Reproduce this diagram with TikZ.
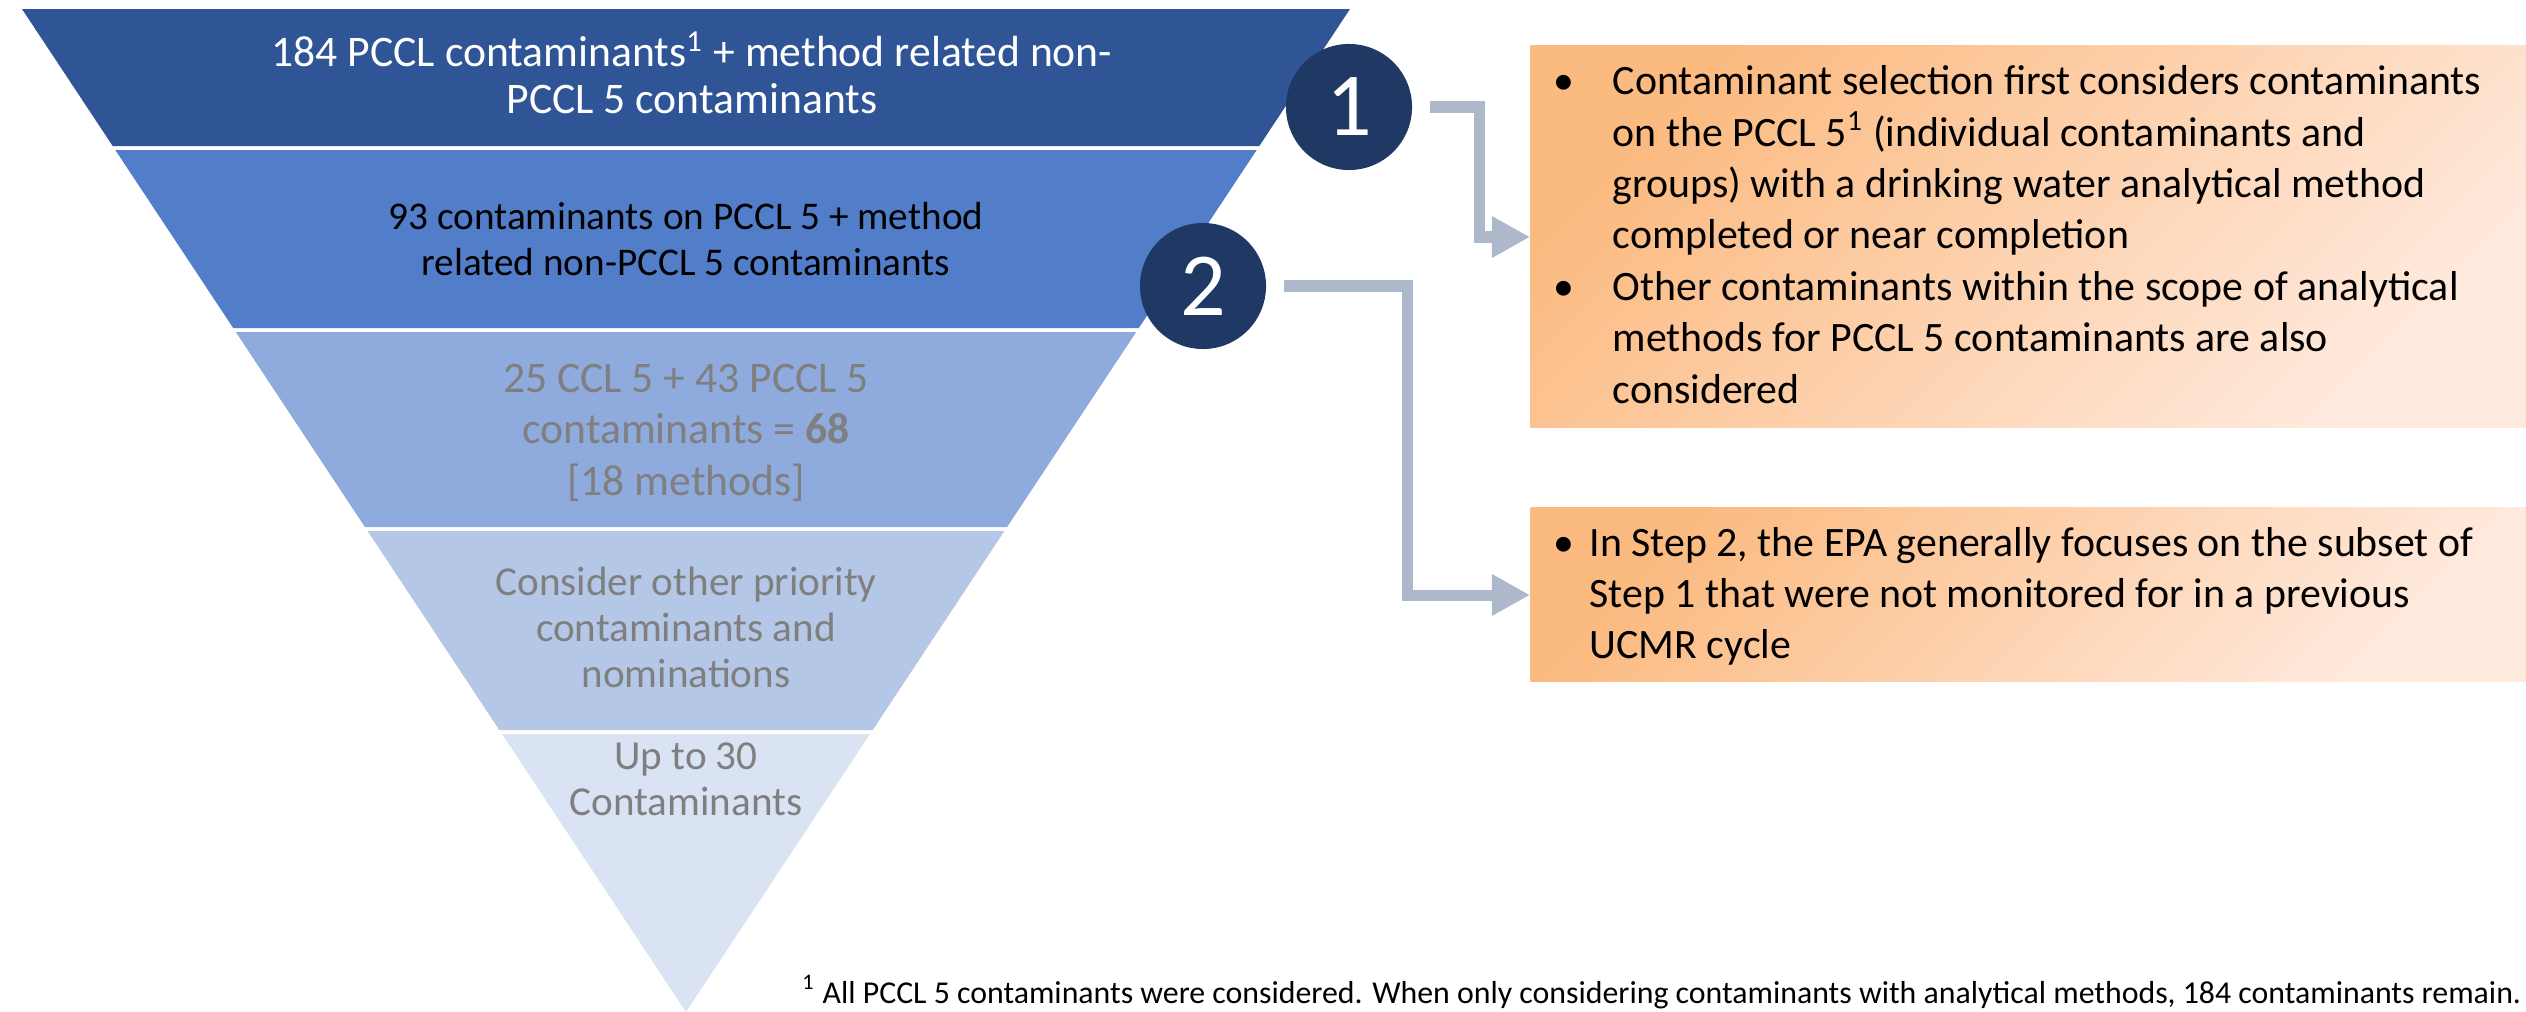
\documentclass[tikz,border=0pt]{standalone}
\usepackage{fontspec}
\setmainfont{Carlito}
\usetikzlibrary{arrows.meta}

\definecolor{bandA}{HTML}{2F5597}
\definecolor{bandB}{HTML}{527DC8}
\definecolor{bandC}{HTML}{8FAADC}
\definecolor{bandD}{HTML}{B4C7E7}
\definecolor{bandE}{HTML}{DAE3F3}
\definecolor{navy}{HTML}{203864}
\definecolor{connc}{HTML}{ADB9CA}
\definecolor{softgray}{HTML}{7F7F7F}
\definecolor{boxA}{HTML}{FBBA80}
\definecolor{boxB}{HTML}{FFEADE}

\newcommand\bandfontlarge{\fontsize{12.4}{13.2}\selectfont}
\newcommand\bandfontmid{\fontsize{11.15}{13.2}\selectfont}
\newcommand\bandfontwide{\fontsize{12.4}{14.68}\selectfont}
\newcommand\bandfontsmall{\fontsize{11.7}{13.2}\selectfont}
\newcommand\boxfont{\fontsize{11.9}{14.62}\selectfont}

\tikzset{
  bandtext/.style={anchor=base, inner sep=0pt, align=center},
  stepcircle/.style={circle, fill=navy, text=white, minimum size=1.26cm, inner sep=0pt,
    font=\fontsize{25.6}{30}\selectfont},
  infobox/.style={rectangle, inner sep=0pt, anchor=north west,
    top color=boxA, bottom color=boxB, shading angle=45},
  boxtext/.style={anchor=base west, inner sep=0pt, font=\boxfont},
  conn/.style={draw=connc, line width=0.11cm, line join=miter,
    -{Triangle[length=0.38cm,width=0.39cm]}},
}

\begin{document}
\begin{tikzpicture}[x=0.01cm, y=-0.01cm]
\useasboundingbox (0,0) rectangle (2526,1012);

% funnel bands
\fill[bandA] (22,9) -- (1350,9) -- (1259.3,146) -- (112.7,146) -- cycle;
\fill[bandB] (115.3,150) -- (1256.7,150) -- (1138.8,328) -- (233.2,328) -- cycle;
\fill[bandC] (235.8,332) -- (1136.2,332) -- (1007.1,527) -- (364.9,527) -- cycle;
\fill[bandD] (367.6,531) -- (1004.4,531) -- (872.7,730) -- (499.3,730) -- cycle;
\fill[bandE] (502,734) -- (870,734) -- (686,1012) -- cycle;

% band labels
\node[bandtext, text=white] (t1) at (692,67) {\bandfontlarge\begin{tabular}[t]{@{}c@{}}
  184 PCCL contaminants\textsuperscript{1} + method related non-\\
  PCCL 5 contaminants\end{tabular}};
\node[bandtext, text=black] (t2) at (686,229) {\bandfontmid\begin{tabular}[t]{@{}c@{}}
  93 contaminants on PCCL 5 + method\\
  related non-PCCL 5 contaminants\end{tabular}};
\node[bandtext, text=softgray] (t3) at (686,392) {\bandfontwide\begin{tabular}[t]{@{}c@{}}
  25 CCL 5 + 43 PCCL 5\\
  contaminants = \textbf{68}\\
  {[}18 methods{]}\end{tabular}};
\node[bandtext, text=softgray] (t4) at (686,595) {\bandfontsmall\begin{tabular}[t]{@{}c@{}}
  Consider other priority\\
  contaminants and\\
  nominations\end{tabular}};
\node[bandtext, text=softgray] (t5) at (686,769) {\bandfontsmall\begin{tabular}[t]{@{}c@{}}
  Up to 30\\
  Contaminants\end{tabular}};

% step markers
\node[stepcircle] (s1) at (1349,107) {1};
\node[stepcircle] (s2) at (1203,286) {2};

% explanation boxes
\node[infobox, minimum width=9.96cm, minimum height=3.82cm] (b1) at (1530,45) {};
\node[infobox, minimum width=9.96cm, minimum height=1.74cm] (b2) at (1530,507) {};

\node[boxtext] (b1text) at (1553,94.6) {\begin{tabular}[t]{@{}p{0.59cm}@{}l@{}}
  \textbullet & Contaminant selection first considers contaminants\\
  & on the PCCL 5\textsuperscript{1} (individual contaminants and\\
  & groups) with a drinking water analytical method\\
  & completed or near completion\\
  \textbullet & Other contaminants within the scope of analytical\\
  & methods for PCCL 5 contaminants are also\\
  & considered\end{tabular}};

\node[boxtext] (b2text) at (1553,556) {\begin{tabular}[t]{@{}p{0.36cm}@{}l@{}}
  \textbullet & In Step 2, the EPA generally focuses on the subset of\\
  & Step 1 that were not monitored for in a previous\\
  & UCMR cycle\end{tabular}};

% elbow connectors
\coordinate (k1) at (1479,237);
\coordinate (k2) at (1407,595);
\draw[conn, shorten <=0.17cm] (s1.east) -| (k1) -- (k1 -| b1.west);
\draw[conn, shorten <=0.17cm] (s2.east) -| (k2) -- (k2 -| b2.west);

% footnote
\node[anchor=base east, inner sep=0pt, font=\fontsize{9.05}{11}\selectfont] (fn) at (2522,1003)
  {\textsuperscript{1} All PCCL 5 contaminants were considered. When only considering contaminants with analytical methods, 184 contaminants remain.};
\end{tikzpicture}
\end{document}
